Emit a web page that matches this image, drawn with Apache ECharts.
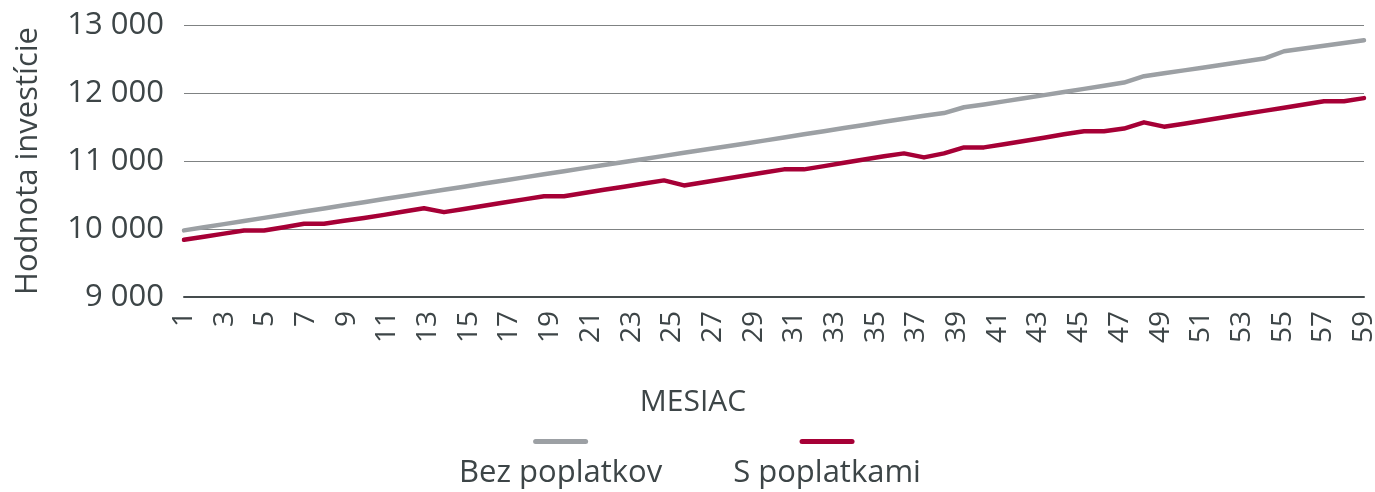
<!DOCTYPE html>
<html><head><meta charset="utf-8">
<script src="https://cdn.jsdelivr.net/npm/echarts@6/dist/echarts.min.js"></script>
<style>html,body{margin:0;padding:0;background:#fff}#c{width:1375px;height:492px}</style>
</head><body><div id="c"></div>
<script>
const months = ['1','2','3','4','5','6','7','8','9','10','11','12','13','14','15','16','17','18','19','20',
  '21','22','23','24','25','26','27','28','29','30','31','32','33','34','35','36','37','38','39','40',
  '41','42','43','44','45','46','47','48','49','50','51','52','53','54','55','56','57','58','59','60'];
const xTickLabels = ['1','2','3','4','5','6','7','8','9','10','11','12','13','14','15','16','17','18','19','20',
  '21','22','23','24','25','26','27','28','29','30','31','32','33','34','35','36','37','38','39','40',
  '41','42','43','44','45','46','47','48','49','50','51','52','53','54','55','56','57','58','59'];
const seriesNames = ['Bez poplatkov', 'S poplatkami'];
const bezPoplatkov = [9980,10026,10072,10118,10164,10210,10256,10302,10348,10394,
  10440,10486,10531,10577,10622,10668,10713,10759,10804,10850,
  10895,10940,10985,11030,11075,11120,11165,11210,11255,11300,
  11346,11392,11438,11484,11530,11576,11621,11666,11705,11790,
  11831,11877,11923,11969,12015,12061,12107,12154,12247,12290,
  12333,12376,12419,12462,12506,12614,12655,12696,12736,12776];
const sPoplatkami = [9841,9887,9932,9978,9978,10027,10077,10077,10120,10163,
  10208,10256,10305,10248,10295,10342,10389,10436,10483,10483,
  10529,10576,10622,10669,10715,10641,10688,10735,10783,10830,
  10877,10877,10925,10973,11021,11069,11112,11053,11112,11200,
  11200,11246,11295,11343,11392,11438,11438,11477,11568,11505,
  11547,11595,11642,11690,11737,11784,11832,11879,11879,11925];
const yTicks = [9000, 10000, 11000, 12000, 13000];
const yTickLabels = ['9 000', '10 000', '11 000', '12 000', '13 000'];
const xAxisTitle = 'MESIAC';
const yAxisTitle = 'Hodnota investície';

const FONT = '"Open Sans", "Noto Sans", sans-serif';
const TXT = '#3d4547';
const GRAY = '#9ca0a4';
const RED = '#a60036';

const chart = echarts.init(document.getElementById('c'), null, {renderer: 'canvas'});
chart.setOption({
  animation: false,
  backgroundColor: '#ffffff',
  grid: {left: 184, right: 11, top: 25, bottom: 195, containLabel: false, outerBoundsMode: 'none'},
  xAxis: [{
    type: 'category', data: xTickLabels, boundaryGap: false,
    axisLine: {lineStyle: {color: '#454c4e', width: 2}},
    axisTick: {show: false},
    axisLabel: {interval: 1, rotate: 90, fontSize: 28, color: TXT, margin: 14, fontFamily: FONT},
    name: xAxisTitle, nameLocation: 'middle', nameGap: 90,
    nameTextStyle: {fontSize: 30, color: TXT, fontFamily: FONT, padding: [0, 162, 0, 0]},
    splitLine: {show: false}
  }, {
    type: 'category', data: months, boundaryGap: false, show: false, position: 'bottom'
  }],
  yAxis: {
    type: 'value', min: yTicks[0], max: yTicks[yTicks.length - 1], interval: 1000,
    axisLine: {show: false}, axisTick: {show: false},
    axisLabel: {fontSize: 31, color: TXT, margin: 20, fontFamily: FONT,
      formatter: v => yTickLabels[yTicks.indexOf(v)]},
    splitLine: {lineStyle: {color: '#7f8283', width: 1.2}},
    name: yAxisTitle, nameLocation: 'middle', nameGap: 140,
    nameTextStyle: {fontSize: 31, color: TXT, fontFamily: FONT}
  },
  legend: {
    data: seriesNames, left: 'center', top: 439, padding: 0,
    icon: 'none', itemWidth: 0, itemHeight: 0, itemGap: 66,
    selectedMode: false,
    formatter: name => (name === seriesNames[0] ? '{g| }' : '{r| }') + '\n{t|' + name + '}',
    textStyle: {
      fontFamily: FONT,
      rich: {
        g: {width: 55, height: 5, lineHeight: 26, backgroundColor: GRAY, borderRadius: 3, align: 'center', fontSize: 4},
        r: {width: 55, height: 5, lineHeight: 26, backgroundColor: RED, borderRadius: 3, align: 'center', fontSize: 4},
        t: {fontSize: 31, color: TXT, fontFamily: FONT, lineHeight: 38, align: 'center'}
      }
    }
  },
  series: [
    {name: seriesNames[0], type: 'line', xAxisIndex: 1, data: bezPoplatkov, symbol: 'none', color: GRAY,
      lineStyle: {width: 4.5, color: GRAY, cap: 'round', join: 'round'}},
    {name: seriesNames[1], type: 'line', xAxisIndex: 1, data: sPoplatkami, symbol: 'none', color: RED,
      lineStyle: {width: 4.5, color: RED, cap: 'round', join: 'round'}}
  ]
});
</script></body></html>
